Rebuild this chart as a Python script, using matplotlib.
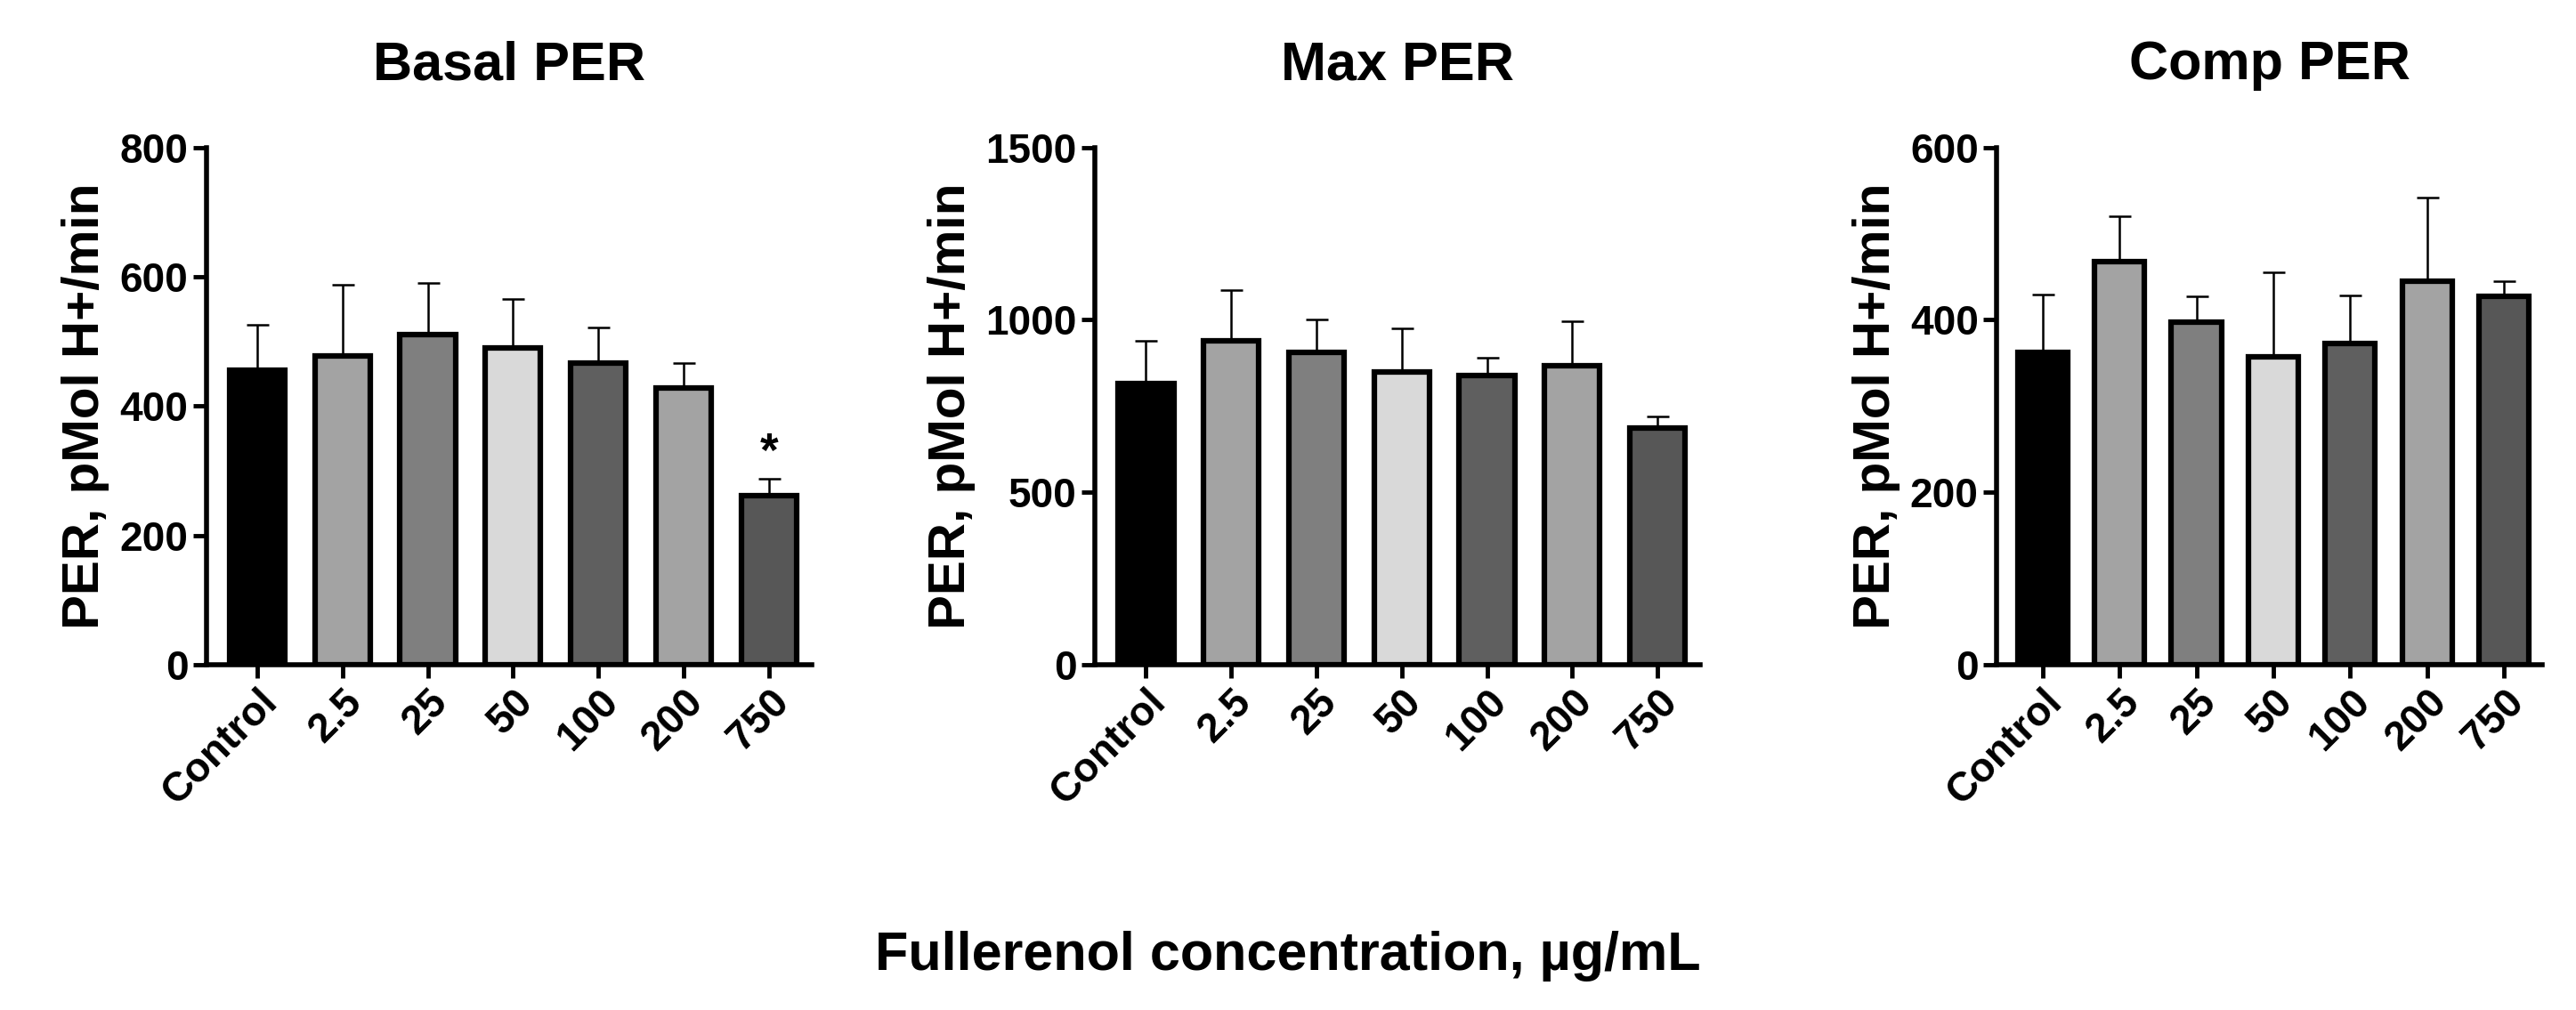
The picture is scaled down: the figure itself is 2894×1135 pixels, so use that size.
import matplotlib
matplotlib.use("Agg")
import matplotlib.pyplot as plt
import numpy as np

categories = ["Control", "2.5", "25", "50", "100", "200", "750"]
titles = ["Basal PER", "Max PER", "Comp PER"]
basal = [455, 478, 510, 490, 467, 428, 262]
basal_err = [70, 110, 80, 75, 55, 38, 25]
maxper = [815, 940, 905, 848, 838, 868, 685]
max_err = [125, 145, 95, 128, 52, 128, 35]
comp = [362, 468, 397, 357, 373, 445, 427]
comp_err = [67, 52, 30, 98, 55, 97, 18]
ylims = [800, 1500, 600]
yticks = [[0, 200, 400, 600, 800], [0, 500, 1000, 1500], [0, 200, 400, 600]]
colors = ["#000000", "#a3a3a3", "#7f7f7f", "#d9d9d9", "#5f5f5f", "#a3a3a3", "#575757"]

plt.rcParams['font.family'] = ['Liberation Sans', 'DejaVu Sans']
plt.rcParams['font.weight'] = 'bold'
fig = plt.figure(figsize=(28.94, 11.35), dpi=100)
lefts = [0.080, 0.425, 0.775]
widths = [0.235, 0.235, 0.212]
datasets = [(basal, basal_err), (maxper, max_err), (comp, comp_err)]
for i, (vals, errs) in enumerate(datasets):
    ax = fig.add_axes([lefts[i], 0.342, widths[i], 0.512])
    x = np.arange(len(categories))
    ax.bar(x, vals, width=0.65, color=colors, edgecolor="black", linewidth=4.5, zorder=2)
    ax.errorbar(x, vals, yerr=[np.zeros(len(errs)), errs], fmt="none", ecolor="black",
                elinewidth=1.8, capsize=9, capthick=1.8, zorder=1)
    ax.set_ylim(0, ylims[i])
    ax.set_xlim(-0.6, 6.5)
    ax.set_yticks(yticks[i])
    ax.set_xticks(x)
    ax.set_xticklabels(categories, rotation=45, ha="right", rotation_mode="anchor",
                       fontsize=33, fontweight="bold")
    for lab in ax.get_yticklabels():
        lab.set_fontsize(33); lab.set_fontweight("bold")
    ax.tick_params(width=3.5, length=11)
    for s in ["top", "right"]:
        ax.spines[s].set_visible(False)
    for s in ["left", "bottom"]:
        ax.spines[s].set_linewidth(4)
    ax.set_ylabel("PER, pMol H+/min", fontsize=42, fontweight="bold", labelpad=8)
    ax.set_title(titles[i], fontsize=44, fontweight="bold", pad=55)
    if i == 0:
        ax.text(6, vals[6] + errs[6] + 5, "*", ha="center", va="bottom", fontsize=38, fontweight="bold")

fig.text(0.5, 0.04, "Fullerenol concentration, µg/mL", ha="center", fontsize=44, fontweight="bold")
fig.savefig("out.png", dpi=100)
